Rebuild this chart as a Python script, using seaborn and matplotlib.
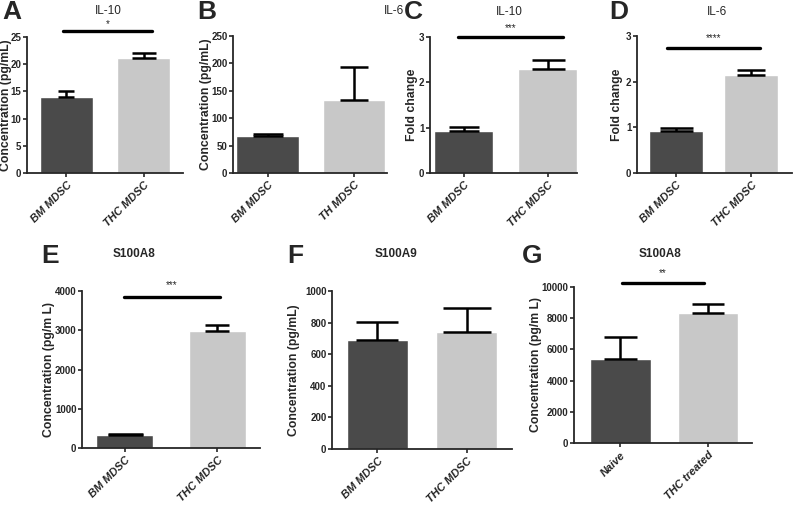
import matplotlib
matplotlib.use("Agg")
import matplotlib.pyplot as plt
import seaborn as sns
import pandas as pd

sns.set_style("ticks")
plt.rcParams['font.family'] = ['Liberation Sans', 'DejaVu Sans']

DARK = '#4a4a4a'
LIGHT = '#c8c8c8'

# data per panel
groups_a = ['BM MDSC', 'THC MDSC']
mean_a = [14.0, 21.1]
err_a = [1.0, 1.0]

groups_b = ['BM MDSC', 'TH MDSC']
mean_b = [68, 133]
err_b = [3, 60]

groups_c = ['BM MDSC', 'THC MDSC']
mean_c = [0.93, 2.29]
err_c = [0.08, 0.20]

groups_d = ['BM MDSC', 'THC MDSC']
mean_d = [0.93, 2.15]
err_d = [0.05, 0.10]

groups_e = ['BM MDSC', 'THC MDSC']
mean_e = [330, 2990]
err_e = [25, 140]

groups_f = ['BM MDSC', 'THC MDSC']
mean_f = [690, 743]
err_f = [115, 150]

groups_g = ['Naive', 'THC treated']
mean_g = [5380, 8350]
err_g = [1400, 550]

W, H = 794, 517
fig = plt.figure(figsize=(W / 100, H / 100), dpi=100)


def px_axes(x0, y0, x1, y1):
    return fig.add_axes([x0 / W, 1 - y1 / H, (x1 - x0) / W, (y1 - y0) / H])


def panel(box, groups, means, errs, ymax, step, ylabel, label_x, xlim, width,
          caps, sig=None):
    ax = px_axes(*box)
    df = pd.DataFrame({'group': groups, 'value': means})
    sns.barplot(data=df, x='group', y='value', hue='group', palette=[DARK, LIGHT],
                width=width, legend=False, ax=ax, errorbar=None)
    for i, (m, e) in enumerate(zip(means, errs)):
        ax.errorbar([i], [m], yerr=[[0], [e]], fmt='none', ecolor='black',
                    elinewidth=1.8, capsize=caps[i] * 0.36, capthick=1.8)
    ax.set_ylim(0, ymax)
    ax.set_xlim(*xlim)
    ax.set_yticks([i * step for i in range(int(round(ymax / step)) + 1)])
    ax.set_xlabel('')
    ax.set_ylabel(ylabel, fontsize=8.8, fontweight='bold')
    ax.yaxis.set_label_coords((label_x - box[0]) / (box[2] - box[0]), 0.5)
    sns.despine(ax=ax)
    for s in ax.spines.values():
        s.set_linewidth(1.3)
    ax.tick_params(axis='y', labelsize=7, width=1.2, length=3, pad=1)
    ax.tick_params(axis='x', width=1.2, length=3, pad=2)
    for lab in ax.get_yticklabels():
        lab.set_fontweight('bold')
    ax.set_xticks(range(len(groups)))
    ax.set_xticklabels(groups, rotation=45, ha='right', rotation_mode='anchor',
                       fontsize=8, fontweight='bold', fontstyle='italic')
    if sig is not None:
        x0, x1, yl, ys, txt = sig
        ax.plot([x0, x1], [yl, yl], color='black', lw=2.4, clip_on=False)
        ax.text((x0 + x1) / 2, ys, txt, ha='center', va='center', fontsize=7)
    return ax


panel((27, 37, 183, 173), groups_a, mean_a, err_a, 25, 5, 'Concentration (pg/mL)', 12,
      (-0.51, 1.51), 0.69, [16, 24], (-0.05, 1.11, 26.1, 27.3, '*'))
panel((233, 36, 387, 173), groups_b, mean_b, err_b, 250, 50, 'Concentration (pg/mL)', 212,
      (-0.40, 1.38), 0.72, [30, 28])
panel((430, 37, 577, 173), groups_c, mean_c, err_c, 3, 1, 'Fold change', 418,
      (-0.40, 1.35), 0.70, [30, 33], (-0.07, 1.18, 3.0, 3.2, '***'))
panel((637, 36, 792, 173), groups_d, mean_d, err_d, 3, 1, 'Fold change', 623,
      (-0.52, 1.54), 0.72, [33, 28], (-0.12, 1.11, 2.73, 2.96, '****'))
panel((82, 291, 260, 448), groups_e, mean_e, err_e, 4000, 1000, 'Concentration (pg/m L)', 55,
      (-0.46, 1.46), 0.62, [35, 24], (-0.01, 1.03, 3840, 4150, '***'))
panel((332, 291, 512, 449), groups_f, mean_f, err_f, 1000, 200, 'Concentration (pg/mL)', 300,
      (-0.51, 1.51), 0.69, [43, 48])
panel((574, 287, 752, 443), groups_g, mean_g, err_g, 10000, 2000, 'Concentration (pg/m L)', 542,
      (-0.53, 1.50), 0.69, [33, 32], (0.02, 0.95, 10250, 10900, '**'))

# panel titles
titles = [(108, 11, 'IL-10', 'normal'), (394, 11, 'IL-6', 'normal'),
          (509, 12, 'IL-10', 'normal'), (717, 12, 'IL-6', 'normal'),
          (134, 254, 'S100A8', 'bold'), (396, 254, 'S100A9', 'bold'),
          (660, 254, 'S100A8', 'bold')]
for x, y, t, w in titles:
    fig.text(x / W, 1 - y / H, t, ha='center', va='center', fontsize=8.5, fontweight=w)

letters = [(2, 12, 'A'), (197, 12, 'B'), (404, 12, 'C'), (609, 12, 'D'),
           (41, 256, 'E'), (287, 256, 'F'), (522, 256, 'G')]
for x, y, t in letters:
    fig.text(x / W, 1 - y / H, t, ha='left', va='center', fontsize=19, fontweight='bold')

fig.savefig('out.png', dpi=100)
